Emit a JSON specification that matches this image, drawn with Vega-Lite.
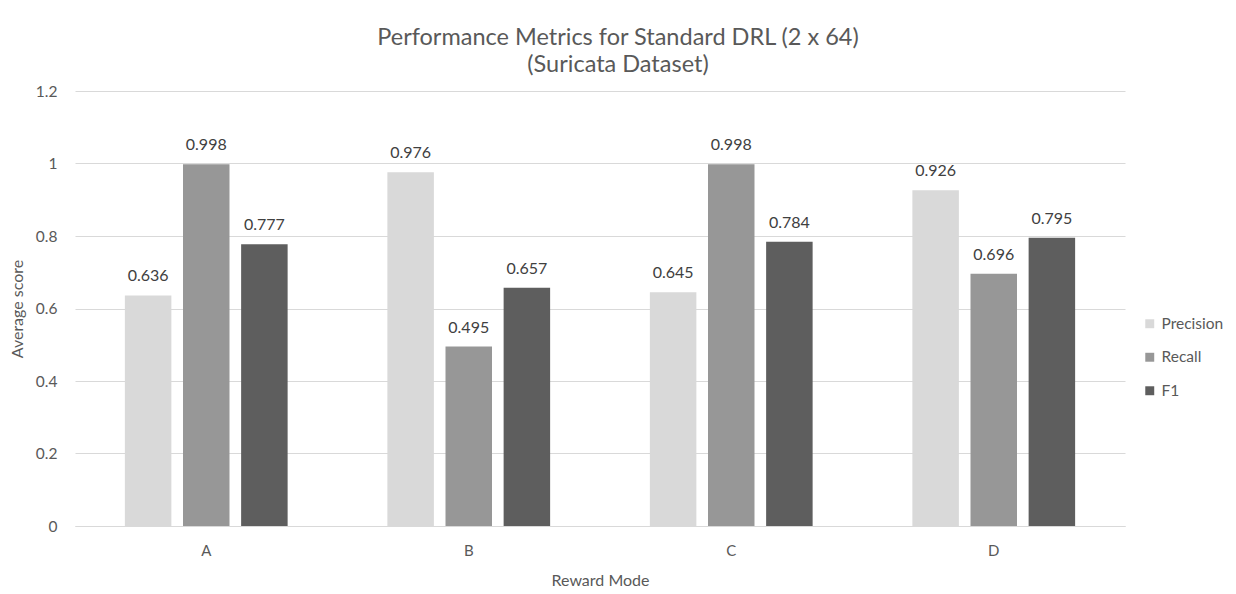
{
  "$schema": "https://vega.github.io/schema/vega-lite/v6.json",
  "width": 1050,
  "height": 435,
  "autosize": {"type": "none"},
  "padding": {"left": 75, "top": 91, "right": 111, "bottom": 68},
  "background": "white",
  "config": {"view": {"stroke": null}},
  "title": {
    "text": ["Performance Metrics for Standard DRL (2 x 64)", "(Suricata Dataset)"],
    "font": "Lato",
    "fontSize": 23.5,
    "fontWeight": "normal",
    "color": "#595959",
    "anchor": "middle",
    "dx": 18,
    "lineHeight": 27,
    "offset": 8
  },
  "data": {
    "values": [
      {"mode": "A", "metric": "Precision", "score": 0.636},
      {"mode": "A", "metric": "Recall", "score": 0.998},
      {"mode": "A", "metric": "F1", "score": 0.777},
      {"mode": "B", "metric": "Precision", "score": 0.976},
      {"mode": "B", "metric": "Recall", "score": 0.495},
      {"mode": "B", "metric": "F1", "score": 0.657},
      {"mode": "C", "metric": "Precision", "score": 0.645},
      {"mode": "C", "metric": "Recall", "score": 0.998},
      {"mode": "C", "metric": "F1", "score": 0.784},
      {"mode": "D", "metric": "Precision", "score": 0.926},
      {"mode": "D", "metric": "Recall", "score": 0.696},
      {"mode": "D", "metric": "F1", "score": 0.795}
    ]
  },
  "encoding": {
    "x": {
      "field": "mode",
      "type": "nominal",
      "title": "Reward Mode",
      "scale": {"paddingInner": 0.38, "paddingOuter": 0.19},
      "axis": {
        "labelAngle": 0,
        "ticks": false,
        "domain": true,
        "domainColor": "#d9d9d9",
        "labelFont": "Lato",
        "labelFontSize": 15,
        "labelColor": "#595959",
        "labelPadding": 17,
        "titleFont": "Lato",
        "titleFontSize": 16,
        "titleFontWeight": "normal",
        "titleColor": "#595959",
        "titlePadding": 14
      }
    },
    "xOffset": {
      "field": "metric",
      "type": "nominal",
      "sort": ["Precision", "Recall", "F1"],
      "scale": {"paddingInner": 0.2, "paddingOuter": 0}
    },
    "y": {
      "field": "score",
      "type": "quantitative",
      "title": "Average score",
      "scale": {"domain": [0, 1.2], "nice": false},
      "axis": {
        "values": [0, 0.2, 0.4, 0.6, 0.8, 1, 1.2],
        "format": "~g",
        "domain": false,
        "ticks": false,
        "grid": true,
        "gridColor": "#d9d9d9",
        "gridWidth": 1,
        "labelFont": "Lato",
        "labelFontSize": 15.5,
        "labelColor": "#595959",
        "labelPadding": 18,
        "titleFont": "Lato",
        "titleFontSize": 16,
        "titleFontWeight": "normal",
        "titleColor": "#595959",
        "titlePadding": 10
      }
    }
  },
  "layer": [
    {
      "mark": {"type": "bar"},
      "encoding": {
        "color": {
          "field": "metric",
          "type": "nominal",
          "sort": ["Precision", "Recall", "F1"],
          "scale": {"domain": ["Precision", "Recall", "F1"], "range": ["#d9d9d9", "#979797", "#5e5e5e"]},
          "legend": {
            "title": null,
            "orient": "none",
            "legendX": 1067,
            "legendY": 225,
            "symbolType": "square",
            "symbolSize": 80,
            "symbolStrokeWidth": 0,
            "labelFont": "Lato",
            "labelFontSize": 15.5,
            "labelColor": "#595959",
            "labelOffset": 4,
            "rowPadding": 16.5
          }
        }
      }
    },
    {
      "mark": {
        "type": "text",
        "baseline": "middle",
        "dy": -19,
        "font": "Lato",
        "fontSize": 16,
        "color": "#404040"
      },
      "encoding": {
        "text": {"field": "score", "type": "quantitative", "format": ".3f"}
      }
    }
  ]
}
